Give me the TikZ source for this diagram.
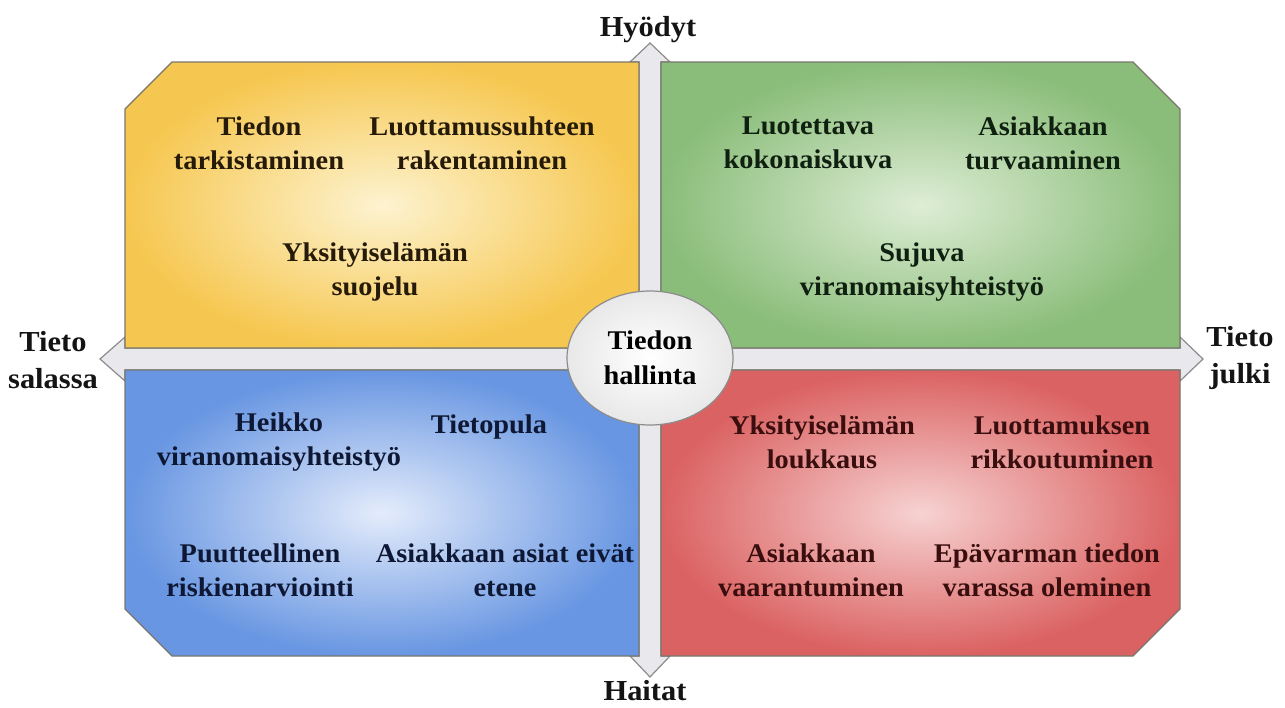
\documentclass[tikz,border=0pt]{standalone}
\usepackage{fontspec}
\setmainfont{Liberation Serif}[FakeStretch=1.05]
\usetikzlibrary{shapes.geometric}

% Colours of the four fields
\definecolor{yellowin}{RGB}{253,243,208}
\definecolor{yellowout}{RGB}{246,199,80}
\definecolor{greenin}{RGB}{222,237,213}
\definecolor{greenout}{RGB}{138,189,122}
\definecolor{bluein}{RGB}{228,236,251}
\definecolor{blueout}{RGB}{104,150,226}
\definecolor{redin}{RGB}{247,210,210}
\definecolor{redout}{RGB}{219,98,98}
\definecolor{quadline}{RGB}{120,118,108}
\definecolor{arrowfill}{RGB}{233,233,237}
\definecolor{arrowline}{RGB}{140,140,140}
\definecolor{hubfill}{RGB}{232,232,232}
\definecolor{yellowtext}{RGB}{38,26,8}
\definecolor{greentext}{RGB}{16,32,16}
\definecolor{bluetext}{RGB}{14,24,52}
\definecolor{redtext}{RGB}{58,14,14}

\tikzset{
  quad/.style={draw=quadline, line width=1.2pt},
  axisarrow/.style={fill=arrowfill, draw=arrowline, line width=1.2pt, line join=miter},
  itemtext/.style={align=center, inner sep=0pt, font=\fontsize{27}{34}\selectfont\bfseries},
  axislabel/.style={align=center, inner sep=0pt, text={rgb,255:red,20;green,20;blue,20}, font=\fontsize{29}{37}\selectfont\bfseries},
  hubnode/.style={ellipse, draw=arrowline, line width=1.2pt, inner color=white, outer color=hubfill,
                  minimum width=166pt, minimum height=134pt, inner sep=0pt, align=center,
                  font=\fontsize{27}{35}\selectfont\bfseries}
}

\begin{document}
\begin{tikzpicture}[x=1pt, y=-1pt]
  % Parameters (pixel grid of the figure)
  \def\xl{125}  % left edge of the fields
  \def\xm{639}  % right edge of the left fields
  \def\xn{661}  % left edge of the right fields
  \def\xr{1180} % right edge of the fields
  \def\yt{62}   % top edge of the fields
  \def\ym{348}  % bottom edge of the upper fields
  \def\yn{370}  % top edge of the lower fields
  \def\yb{656}  % bottom edge of the fields
  \def\cut{47}  % size of the cut corner

  \useasboundingbox (0,0) rectangle (1285,707);

  % Axes (double arrows)
  \path[axisarrow] (100,359) -- (\xl,337) -- (\xl,\ym) -- (\xr,\ym) -- (\xr,337) -- (1203,359)
      -- (\xr,381) -- (\xr,\yn) -- (\xl,\yn) -- (\xl,381) -- cycle;
  \path[axisarrow] (650,43) -- (670,\yt) -- (\xn,\yt) -- (\xn,\yb) -- (670,\yb) -- (650,677)
      -- (630,\yb) -- (\xm,\yb) -- (\xm,\yt) -- (630,\yt) -- cycle;

  % The four fields, each with one cut outer corner
  \shade[quad, inner color=yellowin, outer color=yellowout]
      (\xl,\yt+\cut) -- (\xl+\cut,\yt) -- (\xm,\yt) -- (\xm,\ym) -- (\xl,\ym) -- cycle;
  \shade[quad, inner color=greenin, outer color=greenout]
      (\xn,\yt) -- (\xr-\cut,\yt) -- (\xr,\yt+\cut) -- (\xr,\ym) -- (\xn,\ym) -- cycle;
  \shade[quad, inner color=bluein, outer color=blueout]
      (\xl,\yn) -- (\xm,\yn) -- (\xm,\yb) -- (\xl+\cut,\yb) -- (\xl,\yb-\cut) -- cycle;
  \shade[quad, inner color=redin, outer color=redout]
      (\xn,\yn) -- (\xr,\yn) -- (\xr,\yb-\cut) -- (\xr-\cut,\yb) -- (\xn,\yb) -- cycle;

  % Centre
  \node[hubnode] (hub) at (650,358) {Tiedon\\hallinta};

  % Axis labels
  \node[axislabel, anchor=base] (gains) at (648,36) {Hyödyt};
  \node[axislabel, anchor=base] (losses) at (645,700) {Haitat};
  \node[axislabel] (secret) at (53,360) {Tieto\\salassa};
  \node[axislabel] (public) at (1240,358) {Tieto\\julki};

  % Upper left field
  \node[itemtext, text=yellowtext] (check) at (259,143) {Tiedon\\tarkistaminen};
  \node[itemtext, text=yellowtext] (trust) at (482,143) {Luottamussuhteen\\rakentaminen};
  \node[itemtext, text=yellowtext] (privacy) at (375,272) {Yksityiselämän\\suojelu};

  % Upper right field
  \node[itemtext, text=greentext] (picture) at (808,143) {Luotettava\\kokonaiskuva};
  \node[itemtext, text=greentext] (safety) at (1043,143) {Asiakkaan\\turvaaminen};
  \node[itemtext, text=greentext] (smooth) at (922,272) {Sujuva\\viranomaisyhteistyö};

  % Lower left field
  \node[itemtext, text=bluetext] (weak) at (279,442) {Heikko\\viranomaisyhteistyö};
  \node[itemtext, text=bluetext, anchor=base] (lack) at (489,433) {Tietopula};
  \node[itemtext, text=bluetext] (risk) at (260,570) {Puutteellinen\\riskienarviointi};
  \node[itemtext, text=bluetext] (stall) at (505,570) {Asiakkaan asiat eivät\\etene};

  % Lower right field
  \node[itemtext, text=redtext] (breach) at (822,442) {Yksityiselämän\\loukkaus};
  \node[itemtext, text=redtext] (broken) at (1062,442) {Luottamuksen\\rikkoutuminen};
  \node[itemtext, text=redtext] (danger) at (811,570) {Asiakkaan\\vaarantuminen};
  \node[itemtext, text=redtext] (unsure) at (1047,570) {Epävarman tiedon\\varassa oleminen};
\end{tikzpicture}
\end{document}
